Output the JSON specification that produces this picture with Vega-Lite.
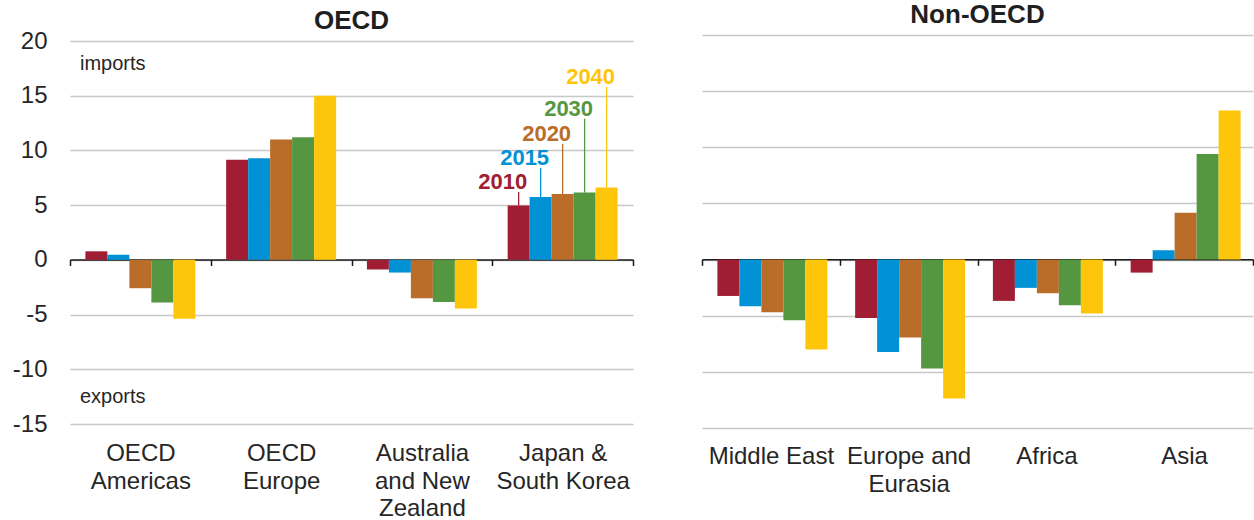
{
  "$schema": "https://vega.github.io/schema/vega-lite/v6.json",
  "padding": {"left": 12, "top": 2, "right": 0, "bottom": 0},
  "autosize": {"type": "pad"},
  "bounds": "flush",
  "spacing": 69,
  "background": "white",
  "config": {
    "view": {"stroke": null},
    "font": "Liberation Sans",
    "title": {"fontSize": 26, "fontWeight": "bold", "color": "#1f1f1f", "anchor": "middle"},
    "axis": {"labelFont": "Liberation Sans", "labelColor": "#262626", "labelFontSize": 24, "title": null}
  },
  "datasets": {
    "oecd": [
      {"region": "OECD Americas", "year": "2010", "value": 0.78},
      {"region": "OECD Americas", "year": "2015", "value": 0.47},
      {"region": "OECD Americas", "year": "2020", "value": -2.59},
      {"region": "OECD Americas", "year": "2030", "value": -3.9},
      {"region": "OECD Americas", "year": "2040", "value": -5.37},
      {"region": "OECD Europe", "year": "2010", "value": 9.14},
      {"region": "OECD Europe", "year": "2015", "value": 9.29},
      {"region": "OECD Europe", "year": "2020", "value": 10.99},
      {"region": "OECD Europe", "year": "2030", "value": 11.21},
      {"region": "OECD Europe", "year": "2040", "value": 15.0},
      {"region": "Australia and New Zealand", "year": "2010", "value": -0.88},
      {"region": "Australia and New Zealand", "year": "2015", "value": -1.16},
      {"region": "Australia and New Zealand", "year": "2020", "value": -3.51},
      {"region": "Australia and New Zealand", "year": "2030", "value": -3.84},
      {"region": "Australia and New Zealand", "year": "2040", "value": -4.45},
      {"region": "Japan & South Korea", "year": "2010", "value": 4.97},
      {"region": "Japan & South Korea", "year": "2015", "value": 5.74},
      {"region": "Japan & South Korea", "year": "2020", "value": 6.01},
      {"region": "Japan & South Korea", "year": "2030", "value": 6.16},
      {"region": "Japan & South Korea", "year": "2040", "value": 6.62}
    ],
    "nonoecd": [
      {"region": "Middle East", "year": "2010", "value": -3.24},
      {"region": "Middle East", "year": "2015", "value": -4.16},
      {"region": "Middle East", "year": "2020", "value": -4.69},
      {"region": "Middle East", "year": "2030", "value": -5.41},
      {"region": "Middle East", "year": "2040", "value": -8.02},
      {"region": "Europe and Eurasia", "year": "2010", "value": -5.2},
      {"region": "Europe and Eurasia", "year": "2015", "value": -8.23},
      {"region": "Europe and Eurasia", "year": "2020", "value": -6.95},
      {"region": "Europe and Eurasia", "year": "2030", "value": -9.71},
      {"region": "Europe and Eurasia", "year": "2040", "value": -12.38},
      {"region": "Africa", "year": "2010", "value": -3.68},
      {"region": "Africa", "year": "2015", "value": -2.52},
      {"region": "Africa", "year": "2020", "value": -3.0},
      {"region": "Africa", "year": "2030", "value": -4.07},
      {"region": "Africa", "year": "2040", "value": -4.81},
      {"region": "Asia", "year": "2010", "value": -1.16},
      {"region": "Asia", "year": "2015", "value": 0.83},
      {"region": "Asia", "year": "2020", "value": 4.17},
      {"region": "Asia", "year": "2030", "value": 9.4},
      {"region": "Asia", "year": "2040", "value": 13.27}
    ],
    "labels": [
      {"region": "Japan & South Korea", "year": "2010", "value": 4.97, "labelY": 6.2},
      {"region": "Japan & South Korea", "year": "2015", "value": 5.74, "labelY": 8.4},
      {"region": "Japan & South Korea", "year": "2020", "value": 6.01, "labelY": 10.6},
      {"region": "Japan & South Korea", "year": "2030", "value": 6.16, "labelY": 12.9},
      {"region": "Japan & South Korea", "year": "2040", "value": 6.62, "labelY": 15.8}
    ],
    "notes": [
      {"region": "OECD Americas", "value": 17.9, "note": "imports"},
      {"region": "OECD Americas", "value": -12.54, "note": "exports"}
    ]
  },
  "hconcat": [
    {
      "width": 563,
      "height": 389,
      "title": {"text": "OECD", "offset": -5},
      "encoding": {
        "x": {
          "field": "region", "type": "nominal",
          "sort": ["OECD Americas", "OECD Europe", "Australia and New Zealand", "Japan & South Korea"],
          "scale": {"paddingInner": 0, "paddingOuter": 0},
          "axis": {
            "orient": "bottom", "offset": -164.5, "labelAngle": 0,
            "domain": true, "domainColor": "#1a1a1a", "domainWidth": 1.6,
            "ticks": true, "tickBand": "extent", "tickColor": "#1a1a1a", "tickWidth": 1.5, "tickSize": 6,
            "grid": false, "labelPadding": 195, "labelBaseline": "alphabetic", "labelLineHeight": 27.5, "labelLimit": 300,
            "labelExpr": "datum.value == 'OECD Americas' ? ['OECD', 'Americas'] : datum.value == 'OECD Europe' ? ['OECD', 'Europe'] : datum.value == 'Australia and New Zealand' ? ['Australia', 'and New', 'Zealand'] : datum.value == 'Japan & South Korea' ? ['Japan &', 'South Korea'] : ''"
          }
        },
        "y": {
          "field": "value", "type": "quantitative",
          "scale": {"domain": [-15, 20.55], "nice": false, "zero": false},
          "axis": {
            "values": [-15, -10, -5, 0, 5, 10, 15, 20],
            "grid": true, "gridColor": "#c8c8c8", "gridWidth": 1.3,
            "domain": false, "ticks": false, "labelPadding": 23,
            "labelExpr": "toString(datum.value)"
          }
        }
      },
      "layer": [
        {
          "data": {"name": "oecd"},
          "mark": {"type": "bar"},
          "encoding": {
            "xOffset": {"field": "year", "type": "nominal", "scale": {"paddingOuter": 0.7, "paddingInner": 0}},
            "color": {"field": "year", "type": "nominal", "legend": null,
              "scale": {"domain": ["2010", "2015", "2020", "2030", "2040"], "range": ["#a11d33", "#0092d4", "#b96d29", "#559641", "#fdc60b"]}}
          }
        },
        {
          "data": {"name": "labels"},
          "mark": {"type": "rule", "strokeWidth": 1.3},
          "encoding": {
            "xOffset": {"field": "year", "type": "nominal", "scale": {"paddingOuter": 0.7, "paddingInner": 0}},
            "y2": {"field": "labelY"},
            "color": {"field": "year", "type": "nominal", "legend": null}
          }
        },
        {
          "data": {"name": "labels"},
          "mark": {"type": "text", "fontSize": 22, "fontWeight": "bold", "baseline": "alphabetic", "dy": -3, "dx": -16},
          "encoding": {
            "xOffset": {"field": "year", "type": "nominal", "scale": {"paddingOuter": 0.7, "paddingInner": 0}},
            "y": {"field": "labelY", "type": "quantitative"},
            "text": {"field": "year"},
            "color": {"field": "year", "type": "nominal", "legend": null}
          }
        },
        {
          "data": {"name": "notes"},
          "mark": {"type": "text", "fontSize": 20, "align": "left", "baseline": "middle", "dx": 10, "color": "#262626"},
          "encoding": {
            "x": {"field": "region", "type": "nominal", "bandPosition": 0},
            "text": {"field": "note"}
          }
        }
      ]
    },
    {
      "width": 551,
      "height": 393,
      "title": {"text": "Non-OECD", "offset": 7},
      "data": {"name": "nonoecd"},
      "mark": {"type": "bar"},
      "encoding": {
        "x": {
          "field": "region", "type": "nominal",
          "sort": ["Middle East", "Europe and Eurasia", "Africa", "Asia"],
          "scale": {"paddingInner": 0, "paddingOuter": 0},
          "axis": {
            "orient": "bottom", "offset": -168.7, "labelAngle": 0,
            "domain": true, "domainColor": "#1a1a1a", "domainWidth": 1.6,
            "ticks": true, "tickBand": "extent", "tickColor": "#1a1a1a", "tickWidth": 1.5, "tickSize": 6,
            "grid": false, "labelPadding": 198, "labelBaseline": "alphabetic", "labelLineHeight": 28, "labelLimit": 300,
            "labelExpr": "datum.value == 'Europe and Eurasia' ? ['Europe and', 'Eurasia'] : datum.value == null ? '' : datum.value"
          }
        },
        "xOffset": {"field": "year", "type": "nominal", "scale": {"paddingOuter": 0.78, "paddingInner": 0}},
        "y": {
          "field": "value", "type": "quantitative",
          "scale": {"domain": [-15, 20], "nice": false, "zero": false},
          "axis": {
            "values": [-15, -10, -5, 0, 5, 10, 15, 20],
            "grid": true, "gridColor": "#c8c8c8", "gridWidth": 1.3,
            "domain": false, "ticks": false, "labels": false
          }
        },
        "color": {"field": "year", "type": "nominal", "legend": null,
          "scale": {"domain": ["2010", "2015", "2020", "2030", "2040"], "range": ["#a11d33", "#0092d4", "#b96d29", "#559641", "#fdc60b"]}}
      }
    }
  ]
}
